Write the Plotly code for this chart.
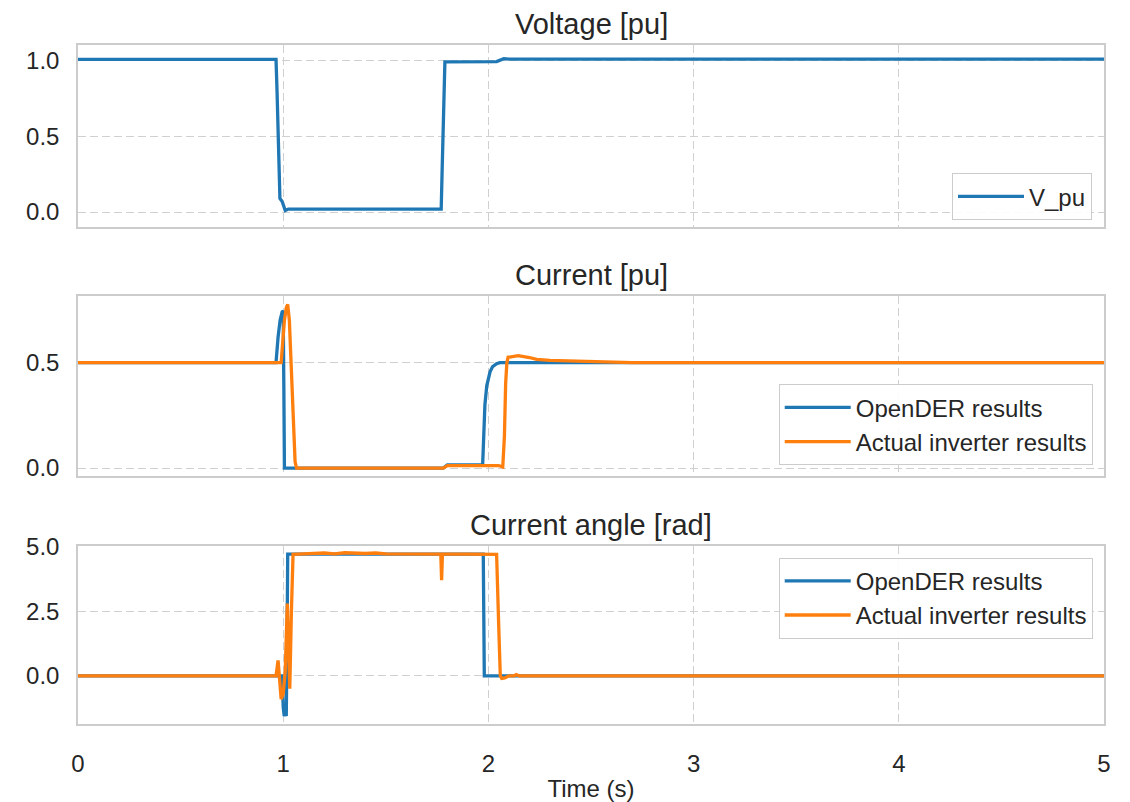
import plotly.graph_objects as go
from plotly.subplots import make_subplots

# ---------------- data ----------------
t_voltage = [0.0, 0.965, 0.970, 0.978, 0.984, 0.995, 1.010, 1.025, 1.770, 1.775, 1.782,
             1.788, 2.040, 2.060, 2.075, 2.100, 5.0]
v_pu = [1.01, 1.01, 0.80, 0.40, 0.09, 0.07, 0.01, 0.02, 0.02, 0.30, 0.80,
        0.993, 0.995, 1.005, 1.015, 1.012, 1.012]

t_cur_opender = [0.0, 0.965, 0.975, 0.985, 0.995, 1.000, 1.003, 1.006, 1.780, 1.800, 1.972,
                 1.976, 1.983, 1.992, 2.000, 2.008, 2.020, 2.040, 2.056, 5.0]
i_opender = [0.5, 0.5, 0.62, 0.70, 0.74, 0.745, 0.40, 0.0, 0.0, 0.015, 0.015,
             0.15, 0.30, 0.39, 0.43, 0.456, 0.48, 0.495, 0.5, 0.5]

t_cur_actual = [0.0, 0.990, 0.998, 1.006, 1.015, 1.022, 1.030, 1.040, 1.050, 1.058, 1.065,
                1.780, 1.800, 2.050, 2.070, 2.078, 2.084, 2.090, 2.096, 2.120, 2.145,
                2.200, 2.235, 2.300, 2.400, 2.550, 2.700, 5.0]
i_actual = [0.5, 0.5, 0.60, 0.70, 0.76, 0.775, 0.70, 0.45, 0.20, 0.03, 0.0,
            0.0, 0.012, 0.012, 0.005, 0.15, 0.40, 0.50, 0.525, 0.530, 0.533,
            0.524, 0.515, 0.51, 0.507, 0.503, 0.50, 0.50]

t_ang_opender = [0.0, 0.995, 1.000, 1.005, 1.010, 1.015, 1.019, 1.022, 1.975, 1.980, 5.0]
ang_opender = [0.0, 0.0, -1.2, -1.55, -1.45, -1.55, 1.5, 4.71, 4.71, 0.0, 0.0]

t_ang_actual = [0.0, 0.965, 0.975, 0.982, 0.990, 1.000, 1.010, 1.020, 1.026, 1.032, 1.040,
                1.048, 1.100, 1.200, 1.250, 1.300, 1.400, 1.450, 1.500, 1.600, 1.700,
                1.768, 1.772, 1.776, 1.900, 2.040, 2.050, 2.058, 2.065, 2.080, 2.100,
                2.125, 2.135, 2.150, 5.0]
ang_actual = [0.0, 0.0, 0.6, -0.3, -0.9, -0.7, 0.2, 2.8, 1.0, -0.5, 2.5,
              4.70, 4.72, 4.75, 4.72, 4.76, 4.73, 4.75, 4.72, 4.72, 4.71,
              4.71, 3.70, 4.71, 4.71, 4.70, 2.0, 0.0, -0.1, -0.08, 0.0,
              0.0, 0.05, 0.0, 0.0]

titles = ["Voltage [pu]", "Current [pu]", "Current angle [rad]"]
x_ticks = [0, 1, 2, 3, 4, 5]

BLUE = "#1f77b4"
ORANGE = "#ff7f0e"
TXT = "#262626"
GRID = "#d0d0d0"
FONT = "Liberation Sans, Arial, sans-serif"
LW = 3.3

fig = make_subplots(rows=3, cols=1, shared_xaxes=True)

fig.add_trace(go.Scatter(x=t_voltage, y=v_pu, mode="lines", name="V_pu",
                         line=dict(color=BLUE, width=LW), legend="legend"), row=1, col=1)
fig.add_trace(go.Scatter(x=t_cur_opender, y=i_opender, mode="lines", name="OpenDER results",
                         line=dict(color=BLUE, width=LW), legend="legend2"), row=2, col=1)
fig.add_trace(go.Scatter(x=t_cur_actual, y=i_actual, mode="lines", name="Actual inverter results",
                         line=dict(color=ORANGE, width=LW), legend="legend2"), row=2, col=1)
fig.add_trace(go.Scatter(x=t_ang_opender, y=ang_opender, mode="lines", name="OpenDER results",
                         line=dict(color=BLUE, width=LW), legend="legend3"), row=3, col=1)
fig.add_trace(go.Scatter(x=t_ang_actual, y=ang_actual, mode="lines", name="Actual inverter results",
                         line=dict(color=ORANGE, width=LW), legend="legend3"), row=3, col=1)

domains = [[0.7317, 1.0], [0.3651, 0.6305], [0.0, 0.2625]]
yranges = [[-0.1, 1.105], [-0.038, 0.816], [-1.86, 5.03]]
ydticks = [0.5, 0.5, 2.5]

axis_common = dict(showline=True, linecolor="#cccccc", linewidth=1.5, mirror=True,
                   showgrid=True, gridcolor=GRID, griddash="8px,4px", gridwidth=1,
                   zeroline=False, ticks="", tickfont=dict(size=24, color=TXT, family=FONT))

for i in range(3):
    fig.update_yaxes(domain=domains[i], range=yranges[i], dtick=ydticks[i], tick0=0,
                     tickformat=".1f", ticklabelstandoff=12, row=i + 1, col=1, **axis_common)
    fig.update_xaxes(range=[0, 5], tickvals=x_ticks, row=i + 1, col=1, **axis_common)
    fig.add_annotation(text=titles[i], xref="x domain" if i == 0 else f"x{i+1} domain",
                       yref="y domain" if i == 0 else f"y{i+1} domain",
                       x=0.5, y=1.0, xanchor="center", yanchor="bottom", yshift=3,
                       showarrow=False, font=dict(size=29, color=TXT, family=FONT))

fig.update_xaxes(ticklabelstandoff=17, row=3, col=1)
fig.update_xaxes(title=dict(text="Time (s)", font=dict(size=24, color=TXT, family=FONT), standoff=5),
                 row=3, col=1)

legend_common = dict(bgcolor="rgba(255,255,255,0.9)", bordercolor="#cccccc", borderwidth=1,
                     font=dict(size=24, color=TXT, family=FONT), xanchor="right",
                     itemwidth=66, tracegroupgap=0)

# the page body adds an 8 px offset, so margins are shifted by that amount
fig.update_layout(
    width=1130, height=802,
    margin=dict(l=70, r=34, t=37, b=83),
    paper_bgcolor="white", plot_bgcolor="white",
    showlegend=True,
    legend=dict(x=0.9883, y=0.742, yanchor="bottom", **legend_common),
    legend2=dict(x=0.989, y=0.381, yanchor="bottom", **legend_common),
    legend3=dict(x=0.989, y=0.2449, yanchor="top", **legend_common),
    font=dict(family=FONT, color=TXT),
)

fig.write_html("out.html", config={"displayModeBar": False})
